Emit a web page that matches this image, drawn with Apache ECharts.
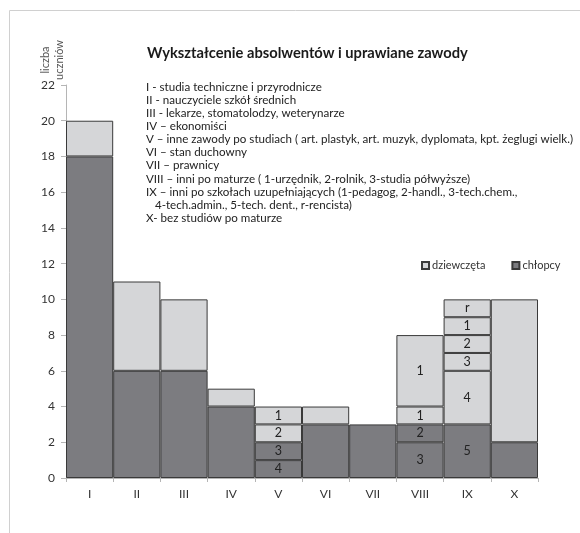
<!DOCTYPE html>
<html>
<head>
<meta charset="utf-8">
<script src="https://cdn.jsdelivr.net/npm/echarts@6/dist/echarts.min.js"></script>
<style>html,body{margin:0;padding:0;background:#fff;}#c{width:580px;height:533px;}</style>
</head>
<body>
<div id="c"></div>
<script>
const categories = ['I','II','III','IV','V','VI','VII','VIII','IX','X'];
// boys (chłopcy) segments, bottom up
const boys1 = [18, 6, 6, 4, 1, 3, 3, 2, 3, 2];
const boys1Labels = ['', '', '', '', '4', '', '', '3', '5', ''];
const boys2 = ['-', '-', '-', '-', 1, '-', '-', 1, '-', '-'];
const boys2Labels = ['', '', '', '', '3', '', '', '2', '', ''];
// girls (dziewczęta) segments, bottom up
const girls1 = [2, 5, 4, 1, 1, 1, '-', 1, 3, 8];
const girls1Labels = ['', '', '', '', '2', '', '', '1', '4', ''];
const girls2 = ['-', '-', '-', '-', 1, '-', '-', 4, 1, '-'];
const girls2Labels = ['', '', '', '', '1', '', '', '1', '3', ''];
const girls3 = ['-', '-', '-', '-', '-', '-', '-', '-', 1, '-'];
const girls3Labels = ['', '', '', '', '', '', '', '', '2', ''];
const girls4 = ['-', '-', '-', '-', '-', '-', '-', '-', 1, '-'];
const girls4Labels = ['', '', '', '', '', '', '', '', '1', ''];
const girls5 = ['-', '-', '-', '-', '-', '-', '-', '-', 1, '-'];
const girls5Labels = ['', '', '', '', '', '', '', '', 'r', ''];
const yTicks = [0, 2, 4, 6, 8, 10, 12, 14, 16, 18, 20, 22];

const title = 'Wykształcenie absolwentów i uprawiane zawody';
const descLines = [
  'I - studia techniczne i przyrodnicze',
  'II - nauczyciele szkół średnich',
  'III - lekarze, stomatolodzy, weterynarze',
  'IV – ekonomiści',
  'V – inne zawody po studiach ( art. plastyk, art. muzyk, dyplomata, kpt. żeglugi wielk.)',
  'VI – stan duchowny',
  'VII – prawnicy',
  'VIII – inni po maturze ( 1-urzędnik, 2-rolnik, 3-studia półwyższe)',
  'IX – inni po szkołach uzupełniających (1-pedagog, 2-handl., 3-tech.chem.,',
  '   4-tech.admin., 5-tech. dent., r-rencista)',
  'X- bez studiów po maturze'
];

const FONT = 'Lato';
const DARK = '#7c7c80';
const LIGHT = '#d5d6d8';
const BORDER = '#3a3a3a';

function mk(name, vals, labs, color) {
  return {
    name: name, type: 'bar', stack: 'all',
    barCategoryGap: '0%',
    itemStyle: { color: color, borderColor: BORDER, borderWidth: 1 },
    label: { show: false, position: 'inside', color: '#222', fontSize: 12.5, fontFamily: FONT },
    emphasis: { disabled: true },
    data: vals.map((v, i) => ({
      value: v,
      label: labs[i] ? { show: true, formatter: labs[i] } : { show: false }
    }))
  };
}

const chart = echarts.init(document.getElementById('c'), null, { renderer: 'canvas' });
chart.setOption({
  animation: false,
  textStyle: { fontFamily: FONT },
  grid: { left: 66, right: 42, top: 85, bottom: 55 },
  legend: {
    data: ['dziewczęta', 'chłopcy'],
    left: 416, top: 255,
    icon: 'rect', itemWidth: 7, itemHeight: 7, itemGap: 26,
    textStyle: { fontSize: 11, color: '#333', fontFamily: FONT, padding: [0, 0, 0, -2] }
  },
  xAxis: {
    type: 'category', data: categories,
    axisLine: { lineStyle: { color: '#b5b5b5' } },
    axisTick: { show: true, length: 4, lineStyle: { color: '#b5b5b5' } },
    axisLabel: { color: '#333', fontSize: 12, margin: 10, fontFamily: FONT }
  },
  yAxis: {
    type: 'value', min: 0, max: 22, interval: 2,
    axisLine: { show: true, lineStyle: { color: '#b5b5b5' } },
    axisTick: { show: true, length: 5, lineStyle: { color: '#b5b5b5' } },
    splitLine: { show: false },
    axisLabel: { color: '#333', fontSize: 12, margin: 11, fontFamily: FONT,
      formatter: v => yTicks.indexOf(v) >= 0 ? String(v) : '' }
  },
  graphic: [
    { type: 'rect', left: 7, top: 8, shape: { width: 620, height: 620 }, silent: true, z: -10,
      style: { fill: 'none', stroke: '#d0d0d0', lineWidth: 1 } },
    { type: 'text', x: 52, y: 60, rotation: Math.PI / 2,
      style: { text: 'liczba\nuczniów', fontSize: 11, lineHeight: 14, fill: '#555', fontFamily: FONT,
        align: 'center', verticalAlign: 'middle' } },
    { type: 'text', x: 147, y: 53,
      style: { text: title, fontSize: 14.7, fontWeight: 'bold', fill: '#1a1a1a', fontFamily: FONT,
        verticalAlign: 'middle' } },
    { type: 'text', x: 146, y: 80.5,
      style: { text: descLines.join('\n'), fontSize: 11.6, lineHeight: 13.1, fill: '#222', fontFamily: FONT } }
  ],
  series: [
    mk('chłopcy', boys1, boys1Labels, DARK),
    mk('chłopcy', boys2, boys2Labels, DARK),
    mk('dziewczęta', girls1, girls1Labels, LIGHT),
    mk('dziewczęta', girls2, girls2Labels, LIGHT),
    mk('dziewczęta', girls3, girls3Labels, LIGHT),
    mk('dziewczęta', girls4, girls4Labels, LIGHT),
    mk('dziewczęta', girls5, girls5Labels, LIGHT)
  ]
});
</script>
</body>
</html>
